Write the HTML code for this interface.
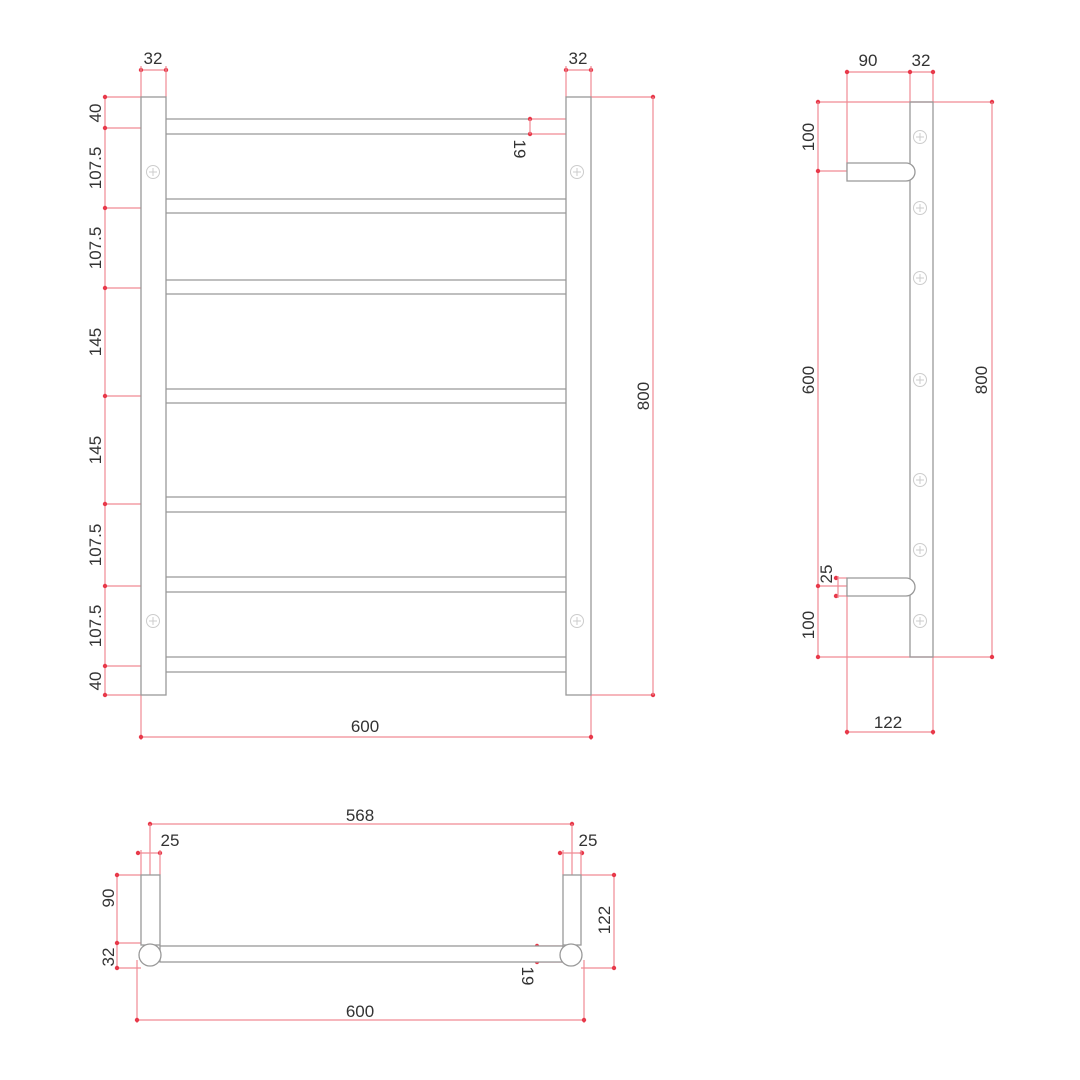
<!DOCTYPE html>
<html><head><meta charset="utf-8"><style>
html,body{margin:0;padding:0;background:#fff;width:1080px;height:1080px;overflow:hidden}
svg text{font-family:"Liberation Sans",sans-serif;font-size:17px;fill:#333}
</style></head><body>
<svg width="1080" height="1080" viewBox="0 0 1080 1080" xmlns="http://www.w3.org/2000/svg">
<defs>
<marker id="d" viewBox="0 0 6 6" refX="3" refY="3" markerWidth="5" markerHeight="5"><circle cx="3" cy="3" r="2.2" fill="#e8394a"/></marker>
<g id="scr"><circle r="6.5" fill="none" stroke="#ccc" stroke-width="1"/><line x1="-4" y1="0" x2="4" y2="0" stroke="#ccc"/><line x1="0" y1="-4" x2="0" y2="4" stroke="#ccc"/></g>
</defs>
<g stroke="#f08a94" stroke-width="1.2" fill="none">
<!-- front view dims -->
<line x1="141" y1="70" x2="166" y2="70" marker-start="url(#d)" marker-end="url(#d)"/>
<line x1="141" y1="66" x2="141" y2="97"/><line x1="166" y1="66" x2="166" y2="97"/>
<line x1="566" y1="70" x2="591" y2="70" marker-start="url(#d)" marker-end="url(#d)"/>
<line x1="566" y1="66" x2="566" y2="97"/><line x1="591" y1="66" x2="591" y2="97"/>
<line x1="105" y1="97" x2="105" y2="695"/>
<g marker-start="url(#d)">
<line x1="105" y1="97" x2="141" y2="97"/><line x1="105" y1="128" x2="141" y2="128"/>
<line x1="105" y1="208" x2="141" y2="208"/><line x1="105" y1="288" x2="141" y2="288"/>
<line x1="105" y1="396" x2="141" y2="396"/><line x1="105" y1="504" x2="141" y2="504"/>
<line x1="105" y1="586" x2="141" y2="586"/><line x1="105" y1="666" x2="141" y2="666"/>
<line x1="105" y1="695" x2="141" y2="695"/>
</g>
<line x1="591" y1="97" x2="653" y2="97" marker-end="url(#d)"/>
<line x1="591" y1="695" x2="653" y2="695" marker-end="url(#d)"/>
<line x1="653" y1="97" x2="653" y2="695"/>
<line x1="141" y1="695" x2="141" y2="740"/><line x1="591" y1="695" x2="591" y2="740"/>
<line x1="141" y1="737" x2="591" y2="737" marker-start="url(#d)" marker-end="url(#d)"/>
<line x1="530" y1="119" x2="566" y2="119" marker-start="url(#d)"/>
<line x1="530" y1="134" x2="566" y2="134" marker-start="url(#d)"/>
<line x1="530" y1="119" x2="530" y2="134"/>
<!-- side view dims -->
<line x1="847" y1="72" x2="933" y2="72"/>
<g marker-start="url(#d)"><line x1="847" y1="72" x2="847" y2="170"/><line x1="910" y1="72" x2="910" y2="102"/><line x1="933" y1="72" x2="933" y2="102"/></g>
<line x1="818" y1="102" x2="992" y2="102" marker-start="url(#d)" marker-end="url(#d)"/>
<line x1="818" y1="102" x2="818" y2="657"/>
<line x1="992" y1="102" x2="992" y2="657"/>
<line x1="818" y1="657" x2="992" y2="657" marker-start="url(#d)" marker-end="url(#d)"/>
<line x1="818" y1="171" x2="847" y2="171" marker-start="url(#d)"/>
<line x1="818" y1="586" x2="847" y2="586" marker-start="url(#d)"/>
<line x1="836" y1="578" x2="847" y2="578" marker-start="url(#d)"/>
<line x1="836" y1="596" x2="847" y2="596" marker-start="url(#d)"/>
<line x1="838" y1="576" x2="838" y2="598"/>
<line x1="847" y1="590" x2="847" y2="735"/><line x1="933" y1="657" x2="933" y2="735"/>
<line x1="847" y1="732" x2="933" y2="732" marker-start="url(#d)" marker-end="url(#d)"/>
<!-- plan view dims -->
<line x1="150" y1="824" x2="572" y2="824" marker-start="url(#d)" marker-end="url(#d)"/>
<line x1="150" y1="824" x2="150" y2="875"/><line x1="572" y1="824" x2="572" y2="875"/>
<line x1="138" y1="853" x2="160" y2="853" marker-start="url(#d)" marker-end="url(#d)"/>
<line x1="560" y1="853" x2="582" y2="853" marker-start="url(#d)" marker-end="url(#d)"/>
<line x1="141" y1="850" x2="141" y2="875"/><line x1="160" y1="850" x2="160" y2="875"/>
<line x1="563" y1="850" x2="563" y2="875"/><line x1="581" y1="850" x2="581" y2="875"/>
<line x1="117" y1="875" x2="117" y2="968"/>
<g marker-start="url(#d)"><line x1="117" y1="875" x2="141" y2="875"/><line x1="117" y1="943" x2="141" y2="943"/><line x1="117" y1="968" x2="141" y2="968"/></g>
<line x1="614" y1="875" x2="614" y2="968"/>
<g marker-end="url(#d)"><line x1="581" y1="875" x2="614" y2="875"/><line x1="581" y1="968" x2="614" y2="968"/></g>
<line x1="537" y1="946" x2="537" y2="962"/>
<g marker-start="url(#d)"><line x1="537" y1="946" x2="563" y2="946"/><line x1="537" y1="962" x2="563" y2="962"/></g>
<line x1="137" y1="960" x2="137" y2="1023"/><line x1="584" y1="960" x2="584" y2="1023"/>
<line x1="137" y1="1020" x2="584" y2="1020" marker-start="url(#d)" marker-end="url(#d)"/>
</g>
<!-- geometry -->
<g stroke="#999" stroke-width="1.3" fill="none">
<rect x="141" y="97" width="25" height="598"/>
<rect x="566" y="97" width="25" height="598"/>
<g>
<line x1="166" y1="119" x2="528" y2="119"/><line x1="166" y1="134" x2="528" y2="134"/>
<line x1="166" y1="199" x2="566" y2="199"/><line x1="166" y1="213" x2="566" y2="213"/>
<line x1="166" y1="280" x2="566" y2="280"/><line x1="166" y1="294" x2="566" y2="294"/>
<line x1="166" y1="389" x2="566" y2="389"/><line x1="166" y1="403" x2="566" y2="403"/>
<line x1="166" y1="497" x2="566" y2="497"/><line x1="166" y1="512" x2="566" y2="512"/>
<line x1="166" y1="577" x2="566" y2="577"/><line x1="166" y1="592" x2="566" y2="592"/>
<line x1="166" y1="657" x2="566" y2="657"/><line x1="166" y1="672" x2="566" y2="672"/>
</g>
<rect x="910" y="102" width="23" height="555"/>
<path d="M847 163 H906 A9 9 0 0 1 906 181 H847 Z" fill="#fff"/>
<path d="M847 578 H906 A9 9 0 0 1 906 596 H847 Z" fill="#fff"/>
<rect x="141" y="875" width="19" height="70"/>
<rect x="563" y="875" width="18" height="70"/>
<rect x="160" y="946" width="403" height="16" fill="#fff"/>
<circle cx="150" cy="955" r="11" fill="#fff"/>
<circle cx="571" cy="955" r="11" fill="#fff"/>
</g>
<use href="#scr" x="153" y="172"/><use href="#scr" x="577" y="172"/>
<use href="#scr" x="153" y="621"/><use href="#scr" x="577" y="621"/>
<use href="#scr" x="920" y="137"/><use href="#scr" x="920" y="208"/><use href="#scr" x="920" y="278"/>
<use href="#scr" x="920" y="380"/><use href="#scr" x="920" y="480"/><use href="#scr" x="920" y="550"/><use href="#scr" x="920" y="621"/>
<!-- labels -->
<g text-anchor="middle">
<text x="153" y="64">32</text><text x="578" y="64">32</text>
<text x="365" y="732">600</text>
<text x="868" y="66">90</text><text x="921" y="66">32</text>
<text x="888" y="728">122</text>
<text x="360" y="821">568</text>
<text x="170" y="846">25</text><text x="588" y="846">25</text>
<text x="360" y="1017">600</text>
</g>
<g text-anchor="middle">
<text transform="translate(101,113) rotate(-90)">40</text>
<text transform="translate(101,168) rotate(-90)">107.5</text>
<text transform="translate(101,248) rotate(-90)">107.5</text>
<text transform="translate(101,342) rotate(-90)">145</text>
<text transform="translate(101,450) rotate(-90)">145</text>
<text transform="translate(101,545) rotate(-90)">107.5</text>
<text transform="translate(101,626) rotate(-90)">107.5</text>
<text transform="translate(101,681) rotate(-90)">40</text>
<text transform="translate(649,396) rotate(-90)">800</text>
<text transform="translate(514,149) rotate(90)">19</text>
<text transform="translate(814,137) rotate(-90)">100</text>
<text transform="translate(814,380) rotate(-90)">600</text>
<text transform="translate(814,625) rotate(-90)">100</text>
<text transform="translate(832,574) rotate(-90)">25</text>
<text transform="translate(987,380) rotate(-90)">800</text>
<text transform="translate(114,898) rotate(-90)">90</text>
<text transform="translate(114,957) rotate(-90)">32</text>
<text transform="translate(610,920) rotate(-90)">122</text>
<text transform="translate(522,976) rotate(90)">19</text>
</g>
</svg>
</body></html>
